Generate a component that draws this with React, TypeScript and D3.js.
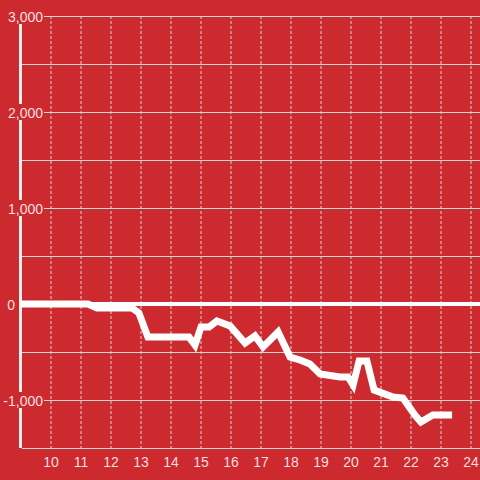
import React from "react";
import * as d3 from "d3";

const xTicks = [10, 11, 12, 13, 14, 15, 16, 17, 18, 19, 20, 21, 22, 23, 24];
const yMajor = [3000, 2000, 1000, -1000];
const yMinor = [2500, 1500, 500, -500, -1500];
const seriesX = [9.0, 11.23, 11.53, 12.7, 12.93, 13.23, 14.6, 14.8, 15.0, 15.27, 15.53, 15.97, 16.47, 16.8, 17.07, 17.57, 17.97, 18.3, 18.63, 18.97, 19.63, 19.9, 20.07, 20.27, 20.53, 20.77, 21.4, 21.73, 22.13, 22.33, 22.73, 23.37];
const seriesY = [0, 0, -42, -42, -94, -344, -344, -427, -240, -240, -177, -229, -406, -333, -448, -292, -552, -583, -625, -729, -760, -760, -844, -594, -594, -896, -969, -979, -1156, -1229, -1156, -1156];

const W = 480, H = 480;
const BG = "#cc2a2f";
const TXT = "#f5dfdf";
const GRID = "#dcd4d4";

export default function App() {
  const x = d3.scaleLinear().domain([9, 24.3]).range([21, 480]);
  const y = d3.scaleLinear().domain([-1500, 3000]).range([448, 16]);
  const fmt = d3.format(",");
  const pts = seriesX.map((v, i) => [v, seriesY[i]] as [number, number]);
  const line = d3.line<[number, number]>().x(d => x(d[0])).y(d => y(d[1]));
  return (
    <svg width={W} height={H} style={{ position: "absolute", left: 0, top: 0 }} fontFamily="'Liberation Sans', Arial, sans-serif">
      <rect x={0} y={0} width={W} height={H} fill={BG} />
      {xTicks.map(t => (
        <line key={"v" + t} x1={x(t)} x2={x(t)} y1={16} y2={448} stroke={GRID} strokeWidth={1} strokeDasharray="3,2" />
      ))}
      {yMinor.map(t => (
        <line key={"m" + t} x1={22} x2={480} y1={Math.round(y(t)) + 0.5} y2={Math.round(y(t)) + 0.5} stroke={GRID} strokeWidth={1} />
      ))}
      {yMajor.map(t => (
        <line key={"M" + t} x1={15} x2={480} y1={Math.round(y(t)) + 0.5} y2={Math.round(y(t)) + 0.5} stroke={GRID} strokeWidth={1} />
      ))}
      <line x1={20.5} x2={20.5} y1={16} y2={448} stroke="#f4eeee" strokeWidth={3} />
      <line x1={22} x2={480} y1={y(0)} y2={y(0)} stroke="#ffffff" strokeWidth={4} />
      {yMajor.map(t => (
        <g key={"l" + t}>
          <rect x={1} y={y(t) - 8} width={43} height={16} fill={BG} />
          <text x={43} y={y(t) + 5.5} textAnchor="end" fontSize={14} fill={TXT}>{fmt(t).replace("−", "-")}</text>
        </g>
      ))}
      <text x={15} y={y(0) + 5.5} textAnchor="end" fontSize={14} fill={TXT}>0</text>
      {xTicks.map(t => (
        <text key={"xl" + t} x={x(t)} y={467} textAnchor="middle" fontSize={14} fill={TXT}>{t}</text>
      ))}
      <path d={line(pts) || ""} fill="none" stroke="#ffffff" strokeWidth={7} strokeLinejoin="miter" />
    </svg>
  );
}
